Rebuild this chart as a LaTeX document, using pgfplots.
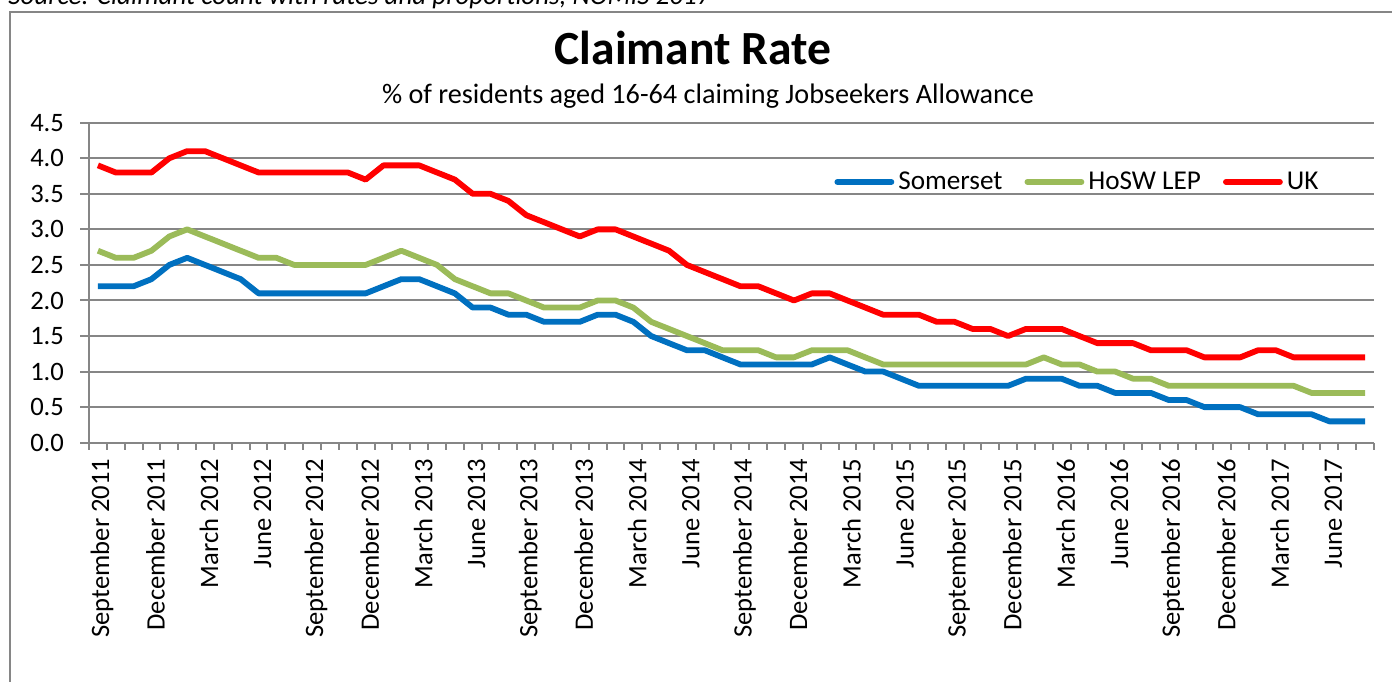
\documentclass[border=0pt]{standalone}
\usepackage{fontspec}
\setmainfont{Carlito}
\usepackage{pgfplots}
\usepackage{pgfplotstable}
\pgfplotsset{compat=1.18}
\definecolor{cBlue}{HTML}{0070C0}
\definecolor{cGreen}{HTML}{9BBB59}
\definecolor{cRed}{HTML}{FF0000}
\definecolor{cGrid}{HTML}{868686}

\pgfplotstableread{
i som lep uk
0 2.2 2.7 3.9
1 2.2 2.6 3.8
2 2.2 2.6 3.8
3 2.3 2.7 3.8
4 2.5 2.9 4.0
5 2.6 3.0 4.1
6 2.5 2.9 4.1
7 2.4 2.8 4.0
8 2.3 2.7 3.9
9 2.1 2.6 3.8
10 2.1 2.6 3.8
11 2.1 2.5 3.8
12 2.1 2.5 3.8
13 2.1 2.5 3.8
14 2.1 2.5 3.8
15 2.1 2.5 3.7
16 2.2 2.6 3.9
17 2.3 2.7 3.9
18 2.3 2.6 3.9
19 2.2 2.5 3.8
20 2.1 2.3 3.7
21 1.9 2.2 3.5
22 1.9 2.1 3.5
23 1.8 2.1 3.4
24 1.8 2.0 3.2
25 1.7 1.9 3.1
26 1.7 1.9 3.0
27 1.7 1.9 2.9
28 1.8 2.0 3.0
29 1.8 2.0 3.0
30 1.7 1.9 2.9
31 1.5 1.7 2.8
32 1.4 1.6 2.7
33 1.3 1.5 2.5
34 1.3 1.4 2.4
35 1.2 1.3 2.3
36 1.1 1.3 2.2
37 1.1 1.3 2.2
38 1.1 1.2 2.1
39 1.1 1.2 2.0
40 1.1 1.3 2.1
41 1.2 1.3 2.1
42 1.1 1.3 2.0
43 1.0 1.2 1.9
44 1.0 1.1 1.8
45 0.9 1.1 1.8
46 0.8 1.1 1.8
47 0.8 1.1 1.7
48 0.8 1.1 1.7
49 0.8 1.1 1.6
50 0.8 1.1 1.6
51 0.8 1.1 1.5
52 0.9 1.1 1.6
53 0.9 1.2 1.6
54 0.9 1.1 1.6
55 0.8 1.1 1.5
56 0.8 1.0 1.4
57 0.7 1.0 1.4
58 0.7 0.9 1.4
59 0.7 0.9 1.3
60 0.6 0.8 1.3
61 0.6 0.8 1.3
62 0.5 0.8 1.2
63 0.5 0.8 1.2
64 0.5 0.8 1.2
65 0.4 0.8 1.3
66 0.4 0.8 1.3
67 0.4 0.8 1.2
68 0.4 0.7 1.2
69 0.3 0.7 1.2
70 0.3 0.7 1.2
71 0.3 0.7 1.2
}\datatable

\begin{document}
\begin{tikzpicture}
\useasboundingbox (0pt,0pt) rectangle (696pt,340.5pt);
\clip (0pt,0pt) rectangle (696pt,340.5pt);
\node[anchor=base west, inner sep=0pt, font=\fontsize{13.5}{15}\selectfont\itshape] at (4pt,338pt) {Source: Claimant count with rates and proportions, NOMIS 2017};
\draw[cGrid, line width=1pt, fill=white] (5pt,-10pt) rectangle (710pt,334.5pt);
\begin{axis}[
  at={(44.5pt,119.15pt)}, anchor=south west,
  scale only axis, width=642.5pt, height=160pt,
  xmin=-0.5, xmax=71.5, ymin=0, ymax=4.5,
  ytick={0,0.5,...,4.5},
  xtick={0,3,...,69},
  xticklabels={September 2011,December 2011,March 2012,June 2012,September 2012,December 2012,March 2013,June 2013,September 2013,December 2013,March 2014,June 2014,September 2014,December 2014,March 2015,June 2015,September 2015,December 2015,March 2016,June 2016,September 2016,December 2016,March 2017,June 2017},
  minor xtick={-0.5,0.5,...,71.5},
  axis x line*=bottom, axis y line*=left,
  axis line style={-, draw=cGrid, line width=1pt},
  xtick pos=bottom, ytick pos=left, tick align=outside,
  major tick length=4.5pt, minor tick length=3.5pt,
  major x tick style={draw=none},
  minor x tick style={draw=cGrid, line width=1pt},
  major y tick style={draw=cGrid, line width=1pt},
  ymajorgrids, major grid style={draw=cGrid, line width=1pt},
  tick label style={font=\fontsize{13.3}{15}\selectfont},
  xticklabel style={rotate=90, anchor=east, yshift=-2pt},
  yticklabel style={xshift=-4.5pt, /pgf/number format/.cd, fixed, fixed zerofill, precision=1, assume math mode=true},
  legend columns=3,
  legend style={at={(0.770,0.815)}, anchor=center, draw=none, fill=none, font=\fontsize{13.6}{15}\selectfont,
    /tikz/every even column/.append style={column sep=9pt}},
  legend image code/.code={\draw[#1, line width=2.9pt, line cap=round] (0pt,0pt) -- (27pt,0pt);},
  every axis plot/.append style={line width=2.9pt, line join=round, mark=none},
]
\addplot[cBlue] table[x=i, y=som] {\datatable};
\addlegendentry{Somerset}
\addplot[cGreen] table[x=i, y=lep] {\datatable};
\addlegendentry{HoSW LEP}
\addplot[cRed] table[x=i, y=uk] {\datatable};
\addlegendentry{UK}
\end{axis}
\node[anchor=base, inner sep=0pt, font=\fontsize{23.8}{26}\selectfont\bfseries] at (346.5pt,308pt) {Claimant Rate};
\node[anchor=base, inner sep=0pt, font=\fontsize{14.1}{16}\selectfont] at (354pt,288.5pt) {\% of residents aged 16-64 claiming Jobseekers Allowance};
\end{tikzpicture}
\end{document}
